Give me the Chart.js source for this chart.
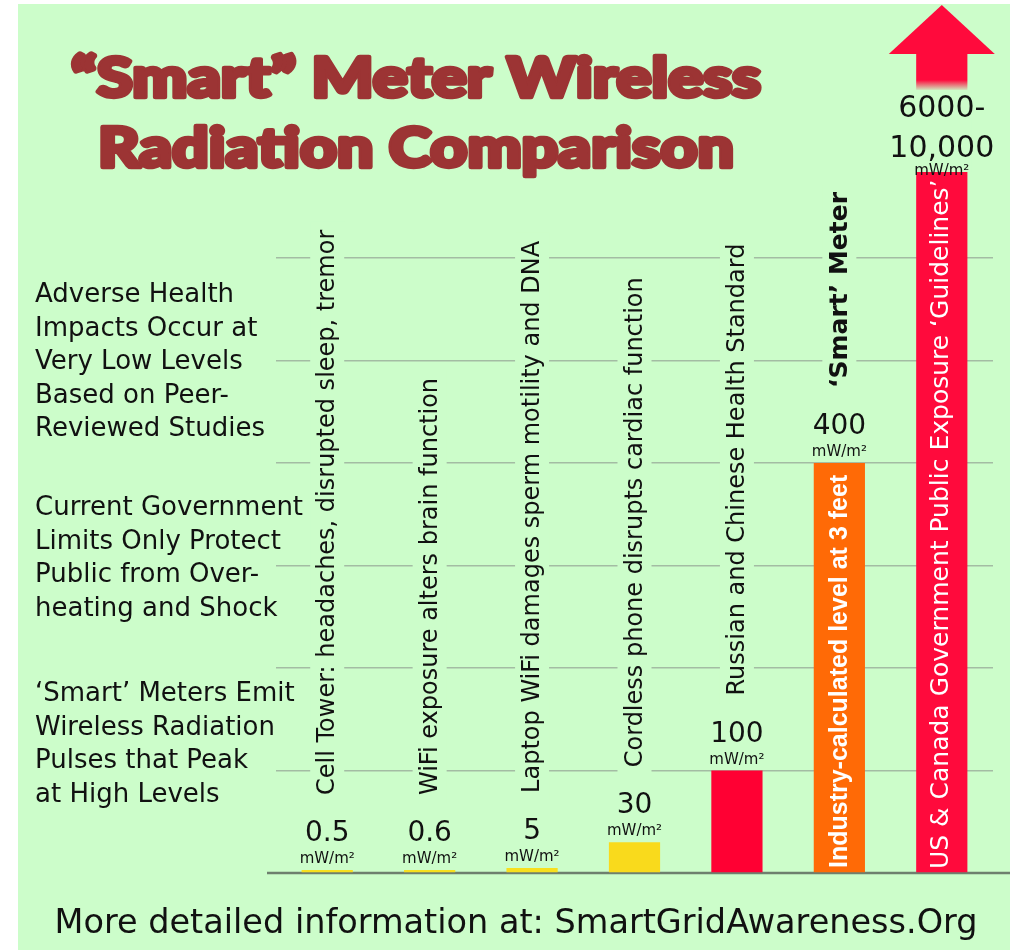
<!DOCTYPE html>
<html lang="en">
<head>
    <meta charset="UTF-8">
    <title>Smart Meter Wireless Radiation Comparison</title>
    <script src="https://cdn.jsdelivr.net/npm/chart.js"></script>
    <style>
        body {
            margin: 0;
            background: #ffffff;
            overflow: hidden;
        }
        #chart {
            display: block;
        }
    </style>
</head>
<body>
<canvas id="chart" width="1016" height="950"></canvas>

<script>
    // chart data
    const categories = [
        'Cell Tower: headaches, disrupted sleep, tremor',
        'WiFi exposure alters brain function',
        'Laptop WiFi damages sperm motility and DNA',
        'Cordless phone disrupts cardiac function',
        'Russian and Chinese Health Standard',
        '\u2018Smart\u2019 Meter',
        'US & Canada Government Public Exposure \u2018Guidelines\u2019'
    ];
    const values = [0.5, 0.6, 5, 30, 100, 400, 10000];
    const valueLabels = [['0.5'], ['0.6'], ['5'], ['30'], ['100'], ['400'], ['6000-', '10,000']];
    const unitLabel = 'mW/m\u00b2';
    const barNotes = ['', '', '', '', '', 'Industry-calculated level at 3 feet', ''];
    const barColors = ['#f7df1e', '#f7df1e', '#f7df1e', '#f9da1c', '#ff0033', '#ff6a06', '#ff0a3c'];

    const titleLines = ['\u201cSmart\u201d Meter Wireless', 'Radiation Comparison'];
    const sideNotes = [
        ['Adverse Health', 'Impacts Occur at', 'Very Low Levels', 'Based on Peer-', 'Reviewed Studies'],
        ['Current Government', 'Limits Only Protect', 'Public from Over-', 'heating and Shock'],
        ['\u2018Smart\u2019 Meters Emit', 'Wireless Radiation', 'Pulses that Peak', 'at High Levels']
    ];
    const footerText = 'More detailed information at: SmartGridAwareness.Org';

    const BG = '#ccfdca';

    // draw text stretched to a given width, optionally thickened with a stroke
    function fitText(ctx, str, x, y, width, stroke) {
        const w = ctx.measureText(str).width;
        ctx.save();
        ctx.translate(x, y);
        ctx.scale(width / w, 1);
        ctx.textAlign = 'center';
        if (stroke) {
            ctx.lineWidth = stroke;
            ctx.lineJoin = 'round';
            ctx.strokeText(str, 0, 0);
        }
        ctx.fillText(str, 0, 0);
        ctx.restore();
    }

    // background, title, side notes, footer
    const pagePlugin = {
        id: 'page',
        beforeDraw(chart) {
            const ctx = chart.ctx;
            ctx.save();
            ctx.fillStyle = '#ffffff';
            ctx.fillRect(0, 0, chart.width, chart.height);
            ctx.fillStyle = BG;
            ctx.fillRect(18, 4, chart.width - 24, chart.height - 4);
            ctx.restore();
        },
        beforeDatasetsDraw(chart) {
            const ctx = chart.ctx;
            const y0 = chart.scales.y.getPixelForValue(0);
            ctx.save();
            ctx.strokeStyle = '#6e7f6e';
            ctx.lineWidth = 2.5;
            ctx.beginPath();
            ctx.moveTo(267, y0);
            ctx.lineTo(1010, y0);
            ctx.stroke();
            ctx.restore();
        },
        afterDraw(chart) {
            const ctx = chart.ctx;
            ctx.save();
            // title
            ctx.fillStyle = '#9c3434';
            ctx.strokeStyle = '#9c3434';
            ctx.font = '900 56px Lato, "DejaVu Sans"';
            ctx.textBaseline = 'alphabetic';
            fitText(ctx, titleLines[0], 416, 97, 690, 4.5);
            fitText(ctx, titleLines[1], 416, 167, 636, 4.5);

            // side notes
            ctx.fillStyle = '#111111';
            ctx.font = '26px "DejaVu Sans"';
            ctx.textAlign = 'left';
            const starts = [302, 515, 701];
            sideNotes.forEach((lines, i) => {
                lines.forEach((line, j) => {
                    ctx.fillText(line, 35, starts[i] + j * 33.5);
                });
            });

            // footer
            ctx.font = '33.5px "DejaVu Sans"';
            ctx.textAlign = 'center';
            ctx.fillText(footerText, 516, 933);
            ctx.restore();
        }
    };

    // value labels, category labels, arrow for the off-scale bar
    const labelPlugin = {
        id: 'barLabels',
        afterDatasetsDraw(chart) {
            const ctx = chart.ctx;
            const area = chart.chartArea;
            const yScale = chart.scales.y;
            const meta = chart.getDatasetMeta(0);

            meta.data.forEach((bar, i) => {
                const x = bar.x;
                const offScale = values[i] > yScale.max;
                const top = offScale ? area.top : bar.y;
                ctx.save();

                if (offScale) {
                    // arrow head
                    ctx.fillStyle = barColors[i];
                    ctx.beginPath();
                    ctx.moveTo(x - 53, area.top + 1);
                    ctx.lineTo(x + 53, area.top + 1);
                    ctx.lineTo(x, area.top - 48);
                    ctx.closePath();
                    ctx.fill();
                    // fade and gap behind the value
                    const g = ctx.createLinearGradient(0, area.top + 27, 0, area.top + 38);
                    g.addColorStop(0, 'rgba(204,253,202,0)');
                    g.addColorStop(1, BG);
                    ctx.fillStyle = g;
                    ctx.fillRect(x - 30, area.top + 27, 60, 11);
                    ctx.fillStyle = BG;
                    ctx.fillRect(x - 30, area.top + 37, 60, 82);

                    ctx.fillStyle = '#111111';
                    ctx.textAlign = 'center';
                    ctx.font = '30px "DejaVu Sans"';
                    ctx.fillText(valueLabels[i][0], x, area.top + 64);
                    ctx.fillText(valueLabels[i][1], x, area.top + 104);
                    ctx.font = '15px "DejaVu Sans"';
                    ctx.fillText(unitLabel, x, area.top + 122);
                } else {
                    ctx.fillStyle = '#111111';
                    ctx.textAlign = 'center';
                    ctx.font = '28px "DejaVu Sans"';
                    ctx.fillText(valueLabels[i][0], x, top - 29);
                    ctx.font = '15px "DejaVu Sans"';
                    ctx.fillText(unitLabel, x, top - 7);
                }

                // category label, rotated
                ctx.translate(x, 0);
                ctx.rotate(-Math.PI / 2);
                ctx.textAlign = 'left';
                ctx.textBaseline = 'middle';
                if (offScale) {
                    ctx.fillStyle = '#ffffff';
                    ctx.font = '25px "DejaVu Sans"';
                    ctx.fillText(categories[i], -(yScale.bottom - 4), 0);
                } else {
                    const bold = barNotes[i] !== '';
                    ctx.font = bold ? 'bold 25px "DejaVu Sans"' : '24px "DejaVu Sans"';
                    const w = ctx.measureText(categories[i]).width;
                    const start = top - 75;
                    ctx.fillStyle = BG;
                    ctx.fillRect(-start - 8, -17, w + 16, 34);
                    ctx.fillStyle = '#111111';
                    ctx.fillText(categories[i], -start, 1);
                }
                if (barNotes[i]) {
                    ctx.fillStyle = '#ffffff';
                    ctx.font = 'bold 25px "Liberation Sans"';
                    ctx.fillText(barNotes[i], -(yScale.bottom - 5), 1);
                }
                ctx.restore();
            });
        }
    };

    new Chart(document.getElementById('chart'), {
        type: 'bar',
        data: {
            labels: categories,
            datasets: [{
                data: values,
                backgroundColor: barColors,
                borderWidth: 0,
                barPercentage: 0.5,
                categoryPercentage: 1.0,
                minBarLength: 3
            }]
        },
        options: {
            responsive: false,
            animation: false,
            layout: {
                padding: { left: 276, right: 23, top: 53, bottom: 77 }
            },
            plugins: {
                legend: { display: false },
                tooltip: { enabled: false }
            },
            scales: {
                x: { display: false },
                y: {
                    min: 0,
                    max: 800,
                    ticks: { display: false, stepSize: 100 },
                    border: { display: false },
                    grid: {
                        drawTicks: false,
                        lineWidth: 1.5,
                        color: c => (c.tick && c.tick.value > 0 && c.tick.value <= 600) ? '#a3bca3' : 'rgba(0,0,0,0)'
                    }
                }
            }
        },
        plugins: [pagePlugin, labelPlugin]
    });
</script>
</body>
</html>
